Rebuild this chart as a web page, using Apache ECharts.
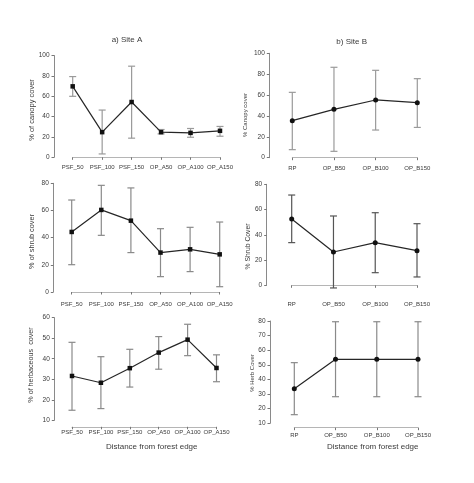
<!DOCTYPE html>
<html>
<head>
<meta charset="utf-8">
<script src="https://cdn.jsdelivr.net/npm/echarts@6/dist/echarts.min.js"></script>
<style>html,body{margin:0;padding:0;background:#fff}#c{width:474px;height:483px}</style>
</head>
<body>
<div id="c"></div>
<script>
const catsA = ['PSF_50','PSF_100','PSF_150','OP_A50','OP_A100','OP_A150'];
const catsB = ['RP','OP_B50','OP_B100','OP_B150'];

const canopyA = [69.7, 24.7, 54.3, 24.7, 24.0, 26.0];
const canopyALow = [59.9, 3.3, 18.8, 23.0, 19.7, 20.7];
const canopyAHigh = [79.3, 46.4, 89.5, 27.3, 28.3, 30.3];

const canopyB = [35.5, 46.3, 55.3, 52.7];
const canopyBLow = [7.7, 6.1, 26.5, 29.0];
const canopyBHigh = [62.6, 86.6, 83.7, 75.7];

const shrubA = [44.2, 60.4, 52.5, 29.0, 31.4, 27.7];
const shrubALow = [20.1, 41.7, 29.0, 11.3, 15.0, 3.9];
const shrubAHigh = [67.7, 78.5, 76.6, 46.6, 47.6, 51.5];

const shrubB = [52.5, 26.4, 33.8, 27.4];
const shrubBLow = [33.8, -2.1, 10.0, 6.6];
const shrubBHigh = [71.5, 54.9, 57.5, 48.8];

const herbA = [31.6, 28.3, 35.4, 43.0, 49.3, 35.5];
const herbALow = [14.9, 15.7, 26.2, 34.9, 41.5, 28.8];
const herbAHigh = [48.0, 41.0, 44.6, 50.8, 56.8, 41.9];

const herbB = [33.7, 53.8, 53.8, 53.8];
const herbBLow = [15.9, 28.2, 28.2, 28.2];
const herbBHigh = [51.5, 79.5, 79.5, 79.5];

const yTitles = ['% of canopy cover','% Canopy cover','% of shrub cover','% Shrub Cover','% of herbaceous  cover','% Herb Cover'];
const xTitle = 'Distance from forest edge';
const panelTitles = ['a) Site A','b) Site B'];

const FONT = '"Liberation Sans", Arial, sans-serif';
const TXT = '#3a3a3a';

const panels = [
  {cats: catsA, v: canopyA, lo: canopyALow, hi: canopyAHigh, grid: {left: 72.7, top: 55.5, width: 147.3, height: 101.8}, min: 0, max: 100, iv: 20, yoff: 18.7, xoff: 4.2, xm: 2.5, sym: 'rect', ss: 4.5, eb: '#9a9a9a'},
  {cats: catsB, v: canopyB, lo: canopyBLow, hi: canopyBHigh, grid: {left: 292.3, top: 53.3, width: 125, height: 104.4}, min: 0, max: 100, iv: 20, yoff: 23, xoff: 5, xm: 3, sym: 'circle', ss: 5, eb: '#9a9a9a'},
  {cats: catsA, v: shrubA, lo: shrubALow, hi: shrubAHigh, grid: {left: 71.7, top: 183.3, width: 148, height: 108.7}, min: 0, max: 80, iv: 20, yoff: 18.4, xoff: 5, xm: 4.5, sym: 'rect', ss: 4.5, eb: '#8a8a8a'},
  {cats: catsB, v: shrubB, lo: shrubBLow, hi: shrubBHigh, grid: {left: 291.7, top: 184.3, width: 125.3, height: 101}, min: 0, max: 80, iv: 20, yoff: 25, xoff: 10.7, xm: 5, sym: 'circle', ss: 5, eb: '#555'},
  {cats: catsA, v: herbA, lo: herbALow, hi: herbAHigh, grid: {left: 72, top: 317.7, width: 144.5, height: 102.6}, min: 10, max: 60, iv: 10, yoff: 17.7, xoff: 6.5, xm: 2.5, sym: 'rect', ss: 4.5, eb: '#8a8a8a'},
  {cats: catsB, v: herbB, lo: herbBLow, hi: herbBHigh, grid: {left: 294.3, top: 321, width: 123.7, height: 102.3}, min: 10, max: 80, iv: 10, yoff: 24.3, xoff: 4.4, xm: 4.5, sym: 'circle', ss: 5, eb: '#8a8a8a'}
];

const grids = [], xAxes = [], yAxes = [], series = [];
panels.forEach((p, i) => {
  grids.push(Object.assign({containLabel: false}, p.grid));
  xAxes.push({
    type: 'category', gridIndex: i, data: p.cats, boundaryGap: false, offset: p.xoff,
    axisLine: {lineStyle: {color: '#b5b5b5', width: 1}},
    axisTick: {show: true, length: 2.5, alignWithLabel: true, lineStyle: {color: '#777'}},
    axisLabel: {fontSize: 6, color: TXT, fontFamily: FONT, margin: p.xm, interval: 0},
    splitLine: {show: false}
  });
  yAxes.push({
    type: 'value', gridIndex: i, min: p.min, max: p.max, interval: p.iv, offset: p.yoff,
    axisLine: {show: true, lineStyle: {color: '#8a8a8a', width: 1}},
    axisTick: {show: true, length: 2.5, lineStyle: {color: '#777'}},
    axisLabel: {fontSize: 6.5, color: TXT, fontFamily: FONT, margin: 4.5},
    splitLine: {show: false}
  });
  const ebData = p.cats.map((c, k) => [k, p.lo[k], p.hi[k]]);
  series.push({
    type: 'custom', xAxisIndex: i, yAxisIndex: i, clip: false, z: 2,
    data: ebData,
    renderItem: function (params, api) {
      const lo = api.coord([api.value(0), api.value(1)]);
      const hi = api.coord([api.value(0), api.value(2)]);
      const hw = 3.5;
      const st = {stroke: p.eb, lineWidth: 1.2};
      return {type: 'group', children: [
        {type: 'line', shape: {x1: lo[0], y1: lo[1], x2: hi[0], y2: hi[1]}, style: st},
        {type: 'line', shape: {x1: hi[0] - hw, y1: hi[1], x2: hi[0] + hw, y2: hi[1]}, style: st},
        {type: 'line', shape: {x1: lo[0] - hw, y1: lo[1], x2: lo[0] + hw, y2: lo[1]}, style: st}
      ]};
    }
  });
  series.push({
    type: 'line', xAxisIndex: i, yAxisIndex: i, data: p.v, z: 5,
    symbol: p.sym, symbolSize: p.ss, showSymbol: true, clip: false,
    itemStyle: {color: '#111'},
    lineStyle: {color: '#262626', width: 1.2},
    animation: false
  });
});

const graphics = [];
const yNamePos = [
  {x: 31.5, y: 110, fs: 7.5},
  {x: 245.5, y: 115, fs: 6},
  {x: 31.5, y: 241.5, fs: 7.3},
  {x: 248.5, y: 246.5, fs: 6.8},
  {x: 31.5, y: 365, fs: 7.2},
  {x: 252, y: 373, fs: 6}
];
yTitles.forEach((t, i) => {
  graphics.push({
    type: 'text', x: yNamePos[i].x, y: yNamePos[i].y, rotation: Math.PI / 2,
    style: {text: t, fontSize: yNamePos[i].fs, fontFamily: FONT, fill: TXT, textAlign: 'center', textVerticalAlign: 'middle'}
  });
});
[{x: 151.7, y: 446.7}, {x: 372.7, y: 446.7}].forEach(pp => {
  graphics.push({type: 'text', x: pp.x, y: pp.y, style: {text: xTitle, fontSize: 8, fontFamily: FONT, fill: TXT, textAlign: 'center', textVerticalAlign: 'middle'}});
});
[{x: 127, y: 39.5}, {x: 351.7, y: 41.7}].forEach((pp, i) => {
  graphics.push({type: 'text', x: pp.x, y: pp.y, style: {text: panelTitles[i], fontSize: 8, fontFamily: FONT, fill: TXT, textAlign: 'center', textVerticalAlign: 'middle'}});
});

const chart = echarts.init(document.getElementById('c'), null, {renderer: 'canvas'});
chart.setOption({
  animation: false,
  backgroundColor: '#fff',
  grid: grids, xAxis: xAxes, yAxis: yAxes, series: series, graphic: graphics
});
</script>
</body>
</html>
